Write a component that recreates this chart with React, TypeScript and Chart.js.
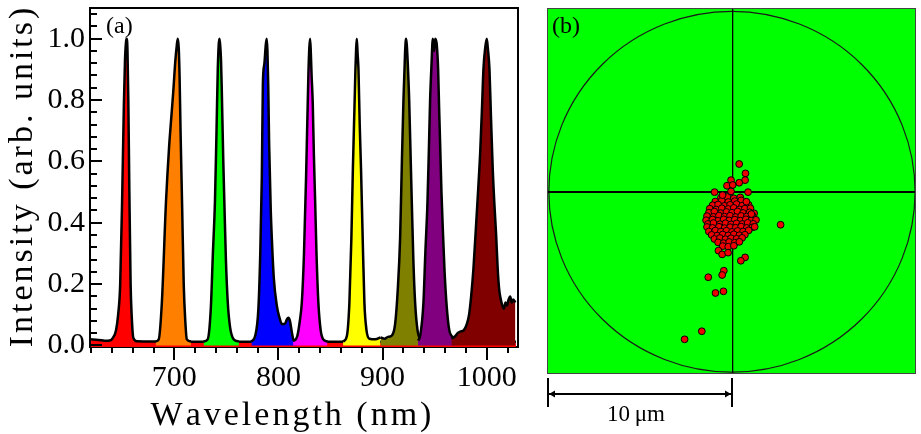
import React, { useEffect, useRef } from "react";
import { Chart, registerables } from "chart.js";

Chart.register(...registerables);

type P = [number, number];

// ---------- Panel (a): spectra (wavelength nm, normalized intensity) ----------
const RED_SPEC: P[] = [
  [620, 0.02], [625, 0.019], [630, 0.017], [634, 0.015], [638, 0.016], [641, 0.025],
  [644, 0.05], [646, 0.1], [648, 0.2], [650, 0.5], [651.5, 0.78], [652.6, 0.93], [653.6, 0.99], [654.3, 1.0],
  [655, 0.96], [655.8, 0.8], [656.8, 0.5], [658, 0.2], [659, 0.1], [660.6, 0.025], [664, 0.014],
  [680, 0.013], [720, 0.012], [780, 0.012], [850, 0.012], [900, 0.012], [960, 0.012],
  [1000, 0.012], [1028, 0.012],
];
const ORANGE_SPEC: P[] = [
  [682, 0.013], [685, 0.02], [688, 0.14], [692, 0.47], [695, 0.65], [697, 0.74],
  [699, 0.83], [701, 0.93], [702.4, 0.98], [703.3, 1.0], [704.2, 0.97], [705, 0.88], [706, 0.69], [707.5, 0.45],
  [709, 0.2], [710.5, 0.08], [712, 0.02], [716, 0.013],
];
const GREEN_SPEC: P[] = [
  [728, 0.013], [732, 0.02], [735, 0.12], [737, 0.3], [739, 0.47], [740.5, 0.7],
  [741.7, 0.9], [742.6, 0.98], [743.3, 1.0], [744, 0.98], [744.8, 0.93], [745.5, 0.84], [747, 0.6], [748, 0.47],
  [749.5, 0.28], [751.3, 0.14], [753.5, 0.06], [757, 0.02], [762, 0.013],
];
const BLUE_SPEC: P[] = [
  [774, 0.013], [777.5, 0.03], [780.7, 0.12], [782.5, 0.3], [784, 0.55], [785, 0.85],
  [786.5, 0.92], [787.8, 0.98], [788.7, 1.0], [789.4, 0.96], [790.2, 0.84], [791, 0.66], [792.5, 0.45], [793.6, 0.35],
  [795.5, 0.22], [798.4, 0.13], [801, 0.09], [803.2, 0.07], [806, 0.07], [808, 0.085],
  [809.5, 0.09], [811, 0.08], [812.5, 0.05], [814.3, 0.02], [818, 0.013],
];
const MAGENTA_SPEC: P[] = [
  [814, 0.013], [818, 0.03], [820.5, 0.08], [822.4, 0.14], [824.5, 0.3], [826.5, 0.55],
  [828.7, 0.88], [829.6, 0.97], [830.4, 1.0], [831.1, 0.95], [831.8, 0.88], [832.9, 0.79], [834, 0.62], [835.2, 0.47],
  [836.5, 0.3], [838.3, 0.14], [840.5, 0.05], [843, 0.02], [847, 0.013],
];
const YELLOW_SPEC: P[] = [
  [862, 0.013], [865.6, 0.03], [868.1, 0.14], [870, 0.35], [871.4, 0.57], [873, 0.78],
  [873.9, 0.9], [874.6, 0.97], [875.2, 1.0], [876, 0.95], [876.8, 0.9], [878, 0.72], [879.3, 0.57],
  [881, 0.33], [882.5, 0.14], [884.5, 0.05], [887.3, 0.022], [893, 0.02], [898, 0.026],
];
const OLIVE_SPEC: P[] = [
  [898, 0.026], [902, 0.022], [905, 0.028], [908.8, 0.032], [912, 0.07], [914.5, 0.18],
  [916.8, 0.35], [918.5, 0.6], [920, 0.8], [921.5, 0.95], [922.1, 0.99], [922.6, 1.0], [923.2, 0.98], [924, 0.93],
  [925.5, 0.8], [927, 0.6], [928, 0.47], [929.5, 0.28], [931.2, 0.14], [933.5, 0.05],
  [936, 0.022], [940, 0.016],
];
const PURPLE_SPEC: P[] = [
  [934, 0.016], [936, 0.03], [939.2, 0.14], [941, 0.3], [943.1, 0.47], [944.5, 0.65],
  [945.6, 0.8], [947, 0.92], [948.2, 1.0], [949.5, 0.96], [950.5, 1.0], [952, 0.98],
  [953.3, 0.9], [954.2, 0.78], [955.2, 0.66], [956.5, 0.5], [957.8, 0.38], [959.5, 0.24],
  [961.7, 0.12], [964, 0.05], [966.5, 0.03], [970, 0.022],
];
const MAROON_SPEC: P[] = [
  [966, 0.022], [969.7, 0.03], [972, 0.04], [974.5, 0.045], [978, 0.05], [980.9, 0.07],
  [983, 0.1], [985, 0.16], [987.2, 0.25], [989, 0.35], [991.1, 0.47], [993.7, 0.63],
  [995.5, 0.78], [996.8, 0.9], [998.5, 0.97], [1000, 1.0], [1001, 0.97], [1002.6, 0.9],
  [1004, 0.75], [1005.8, 0.57], [1007.5, 0.45], [1009, 0.36], [1010.5, 0.25], [1012, 0.18],
  [1013.5, 0.15], [1015, 0.13], [1016.5, 0.12], [1018, 0.14], [1019.5, 0.13], [1021, 0.15],
  [1022.5, 0.16], [1024, 0.14], [1025.5, 0.15], [1027.5, 0.14],
];

const SPEC_COLORS = ["#ff0000", "#ff8000", "#00ff00", "#0000ff", "#ff00ff", "#ffff00", "#808000", "#800080", "#800000"];

const X_TITLE = "Wavelength (nm)";
const Y_TITLE = "Intensity (arb. units)";
const X_LABEL_TICKS = [700, 800, 900, 1000];
const X_TICK_MARKS = [620, 640, 660, 680, 700, 720, 740, 760, 780, 800, 820, 840, 860, 880, 900, 920, 940, 960, 980, 1000, 1020];
const Y_LABEL_TICKS = [0, 0.2, 0.4, 0.6, 0.8, 1.0];
const Y_TICK_MARKS = [0, 0.04, 0.08, 0.12, 0.16, 0.2, 0.24, 0.28, 0.32, 0.36, 0.4, 0.44, 0.48, 0.52, 0.56, 0.6, 0.64, 0.68, 0.72, 0.76, 0.8, 0.84, 0.88, 0.92, 0.96, 1.0, 1.04, 1.08];

// ---------- Panel (b): spot positions (micrometres) ----------
const SPOTS_OUTLIERS: P[] = [
  [0.39, 1.48], [0.73, 0.98], [0.71, 0.62], [0.39, 0.48], [-0.05, 0.62], [-0.27, 0.32],
  [0.04, 0.36], [-0.94, -0.02], [-0.05, 0.02], [0.87, -0.02], [0.78, -0.53], [-0.51, -0.18],
  [2.63, -1.76], [1.23, -1.87], [1.05, -1.19], [-0.73, -3.14], [-0.53, -3.34], [-0.21, -3.25],
  [0.71, -3.5], [0.48, -3.68], [-0.44, -4.21], [-0.53, -4.44], [-1.28, -4.56], [-0.46, -5.31],
  [-0.89, -5.4], [-1.63, -7.44], [-2.56, -7.87],
];
const SPOTS_CLUSTER: P[] = [
  [-0.6, -0.32], [-0.25, -0.28], [0.1, -0.35], [0.45, -0.3],
  [-0.9, -0.52], [-0.55, -0.47], [-0.2, -0.55], [0.15, -0.5], [0.5, -0.46],
  [-1.05, -0.72], [-0.75, -0.68], [-0.4, -0.75], [-0.1, -0.7], [0.25, -0.66], [0.55, -0.74], [0.9, -0.7],
  [-1.2, -0.9], [-0.85, -0.95], [-0.55, -0.88], [-0.2, -0.92], [0.1, -0.86], [0.4, -0.94], [0.7, -0.9], [1.0, -0.88],
  [-1.25, -1.12], [-0.95, -1.06], [-0.6, -1.14], [-0.3, -1.08], [0.0, -1.12], [0.3, -1.05], [0.6, -1.13], [0.95, -1.1], [1.2, -1.15],
  [-1.35, -1.3], [-1.0, -1.34], [-0.7, -1.27], [-0.4, -1.33], [-0.1, -1.28], [0.2, -1.35], [0.5, -1.29], [0.8, -1.32], [1.1, -1.27],
  [-1.4, -1.52], [-1.05, -1.48], [-0.75, -1.55], [-0.45, -1.47], [-0.15, -1.53], [0.15, -1.49], [0.45, -1.54], [0.75, -1.47], [1.05, -1.52], [1.3, -1.5],
  [-1.3, -1.72], [-1.0, -1.67], [-0.65, -1.73], [-0.35, -1.68], [-0.05, -1.74], [0.25, -1.69], [0.55, -1.72], [0.85, -1.66], [1.15, -1.71],
  [-1.35, -1.88], [-1.05, -1.93], [-0.7, -1.87], [-0.4, -1.94], [-0.1, -1.89], [0.2, -1.92], [0.5, -1.86], [0.8, -1.93], [1.1, -1.9],
  [-1.25, -2.12], [-0.9, -2.07], [-0.6, -2.13], [-0.3, -2.08], [0.0, -2.14], [0.3, -2.09], [0.6, -2.12], [0.9, -2.06],
  [-1.1, -2.3], [-0.8, -2.34], [-0.5, -2.28], [-0.2, -2.33], [0.1, -2.27], [0.4, -2.32], [0.7, -2.29],
  [-0.95, -2.52], [-0.65, -2.47], [-0.35, -2.53], [-0.05, -2.48], [0.25, -2.51], [0.55, -2.46],
  [-0.75, -2.7], [-0.45, -2.74], [-0.15, -2.68], [0.15, -2.72], [0.4, -2.67],
  [-0.5, -2.9], [-0.2, -2.93], [0.1, -2.88],
];
const FIELD_X = [-10, 9.95];
const FIELD_Y = [-9.72, 9.8];
const RING_RADIUS = [9.9, 9.62]; // x, y semi-axes in micrometres
const SCALE_BAR = [-10, 0]; // 10 µm
const SCALE_LABEL = "10\u2009\u03bcm";

const SERIF = '"Liberation Serif", "Times New Roman", serif';

function isMajor(list: number[], v: number) {
  for (let i = 0; i < list.length; i++) if (Math.abs(list[i] - v) < 1e-6) return true;
  return false;
}

// draws text centred on cx with extra spacing between characters
function spacedText(ctx: CanvasRenderingContext2D, text: string, cx: number, y: number, gap: number) {
  const chars = Array.from(text);
  const widths = chars.map((c) => ctx.measureText(c).width);
  const total = widths.reduce((a, w) => a + w, 0) + gap * (chars.length - 1);
  let x = cx - total / 2;
  ctx.textAlign = "left";
  for (let i = 0; i < chars.length; i++) {
    ctx.fillText(chars[i], x, y);
    x += widths[i] + gap;
  }
}

const spectraPlugin = {
  id: "spectraFrame",
  beforeDatasetsDraw(chart: any) {
    const ctx = chart.ctx;
    const ca = chart.chartArea;
    const l = Math.round(ca.left), r = Math.round(ca.right), t = Math.round(ca.top), b = Math.round(ca.bottom);
    ctx.save();
    ctx.fillStyle = "#000000";
    ctx.fillRect(l - 1, b - 1, r - l + 2, 2);
    ctx.fillRect(l - 1, t - 1, 2, b - t + 2);
    ctx.restore();
  },
  afterDraw(chart: any) {
    const ctx = chart.ctx;
    const ca = chart.chartArea;
    const xs = chart.scales.x;
    const ys = chart.scales.y;
    const l = Math.round(ca.left), r = Math.round(ca.right), t = Math.round(ca.top), b = Math.round(ca.bottom);
    ctx.save();
    ctx.fillStyle = "#000000";
    ctx.fillRect(l - 1, t - 1, r - l + 2, 2);
    ctx.fillRect(r - 1, t - 1, 2, b - t + 2);
    ctx.fillRect(l - 1, t - 1, 2, b - t - 6);
    for (let i = 0; i < Y_TICK_MARKS.length; i++) {
      const v = Y_TICK_MARKS[i];
      const y = Math.round(ys.getPixelForValue(v));
      const len = isMajor(Y_LABEL_TICKS, v) ? 12 : 7;
      ctx.fillRect(l, y - 1, len, 2);
    }
    for (let i = 0; i < X_TICK_MARKS.length; i++) {
      const v = X_TICK_MARKS[i];
      const x = Math.round(xs.getPixelForValue(v));
      const len = isMajor(X_LABEL_TICKS, v) ? 13 : 6;
      ctx.fillRect(x - 1, b, 2, len);
    }

    ctx.font = `24px ${SERIF}`;
    ctx.textAlign = "left";
    ctx.textBaseline = "alphabetic";
    ctx.fillText("(a)", l + 16, t + 25);

    ctx.font = `34px ${SERIF}`;
    spacedText(ctx, X_TITLE, (l + r) / 2 - 13, 425, 3);
    ctx.translate(32, (t + b) / 2);
    ctx.rotate(-Math.PI / 2);
    spacedText(ctx, Y_TITLE, 0, 0, 3);
    ctx.restore();
  },
};

const spotPlugin = {
  id: "spotField",
  beforeDatasetsDraw(chart: any) {
    const ctx = chart.ctx;
    const ca = chart.chartArea;
    const xs = chart.scales.x;
    const ys = chart.scales.y;
    ctx.save();
    ctx.fillStyle = "#00ff00";
    ctx.fillRect(ca.left, ca.top, ca.right - ca.left, ca.bottom - ca.top);
    const cx = xs.getPixelForValue(0);
    const cy = ys.getPixelForValue(0);
    const rx = Math.abs(xs.getPixelForValue(RING_RADIUS[0]) - cx);
    const ry = Math.abs(ys.getPixelForValue(RING_RADIUS[1]) - cy);
    ctx.strokeStyle = "#1a1a1a";
    ctx.lineWidth = 1.2;
    ctx.beginPath();
    ctx.ellipse(cx, cy, rx, ry, 0, 0, Math.PI * 2);
    ctx.stroke();
    ctx.fillStyle = "#000000";
    ctx.fillRect(ca.left, Math.round(cy) - 1, ca.right - ca.left, 2);
    ctx.fillRect(Math.round(cx), ca.top, 1.3, ca.bottom - ca.top);
    ctx.restore();
  },
  afterDraw(chart: any) {
    const ctx = chart.ctx;
    const ca = chart.chartArea;
    const xs = chart.scales.x;
    ctx.save();
    ctx.strokeStyle = "#444444";
    ctx.lineWidth = 1;
    ctx.strokeRect(ca.left + 0.5, ca.top + 0.5, ca.right - ca.left - 1, ca.bottom - ca.top - 1);

    ctx.fillStyle = "#000000";
    ctx.font = `24px ${SERIF}`;
    ctx.textAlign = "left";
    ctx.fillText("(b)", ca.left + 5, ca.top + 25);

    const x0 = Math.round(xs.getPixelForValue(SCALE_BAR[0])) + 1;
    const x1 = Math.round(xs.getPixelForValue(SCALE_BAR[1]));
    const yb = Math.round(ca.bottom + 20);
    ctx.fillRect(x0 - 1, ca.bottom + 4, 2, 29);
    ctx.fillRect(x1 - 1, ca.bottom + 4, 2, 29);
    ctx.fillRect(x0 + 1, yb - 1, x1 - x0 - 2, 2);
    ctx.beginPath();
    ctx.moveTo(x0 + 1, yb);
    ctx.lineTo(x0 + 7, yb - 3.5);
    ctx.lineTo(x0 + 7, yb + 3.5);
    ctx.closePath();
    ctx.moveTo(x1 - 1, yb);
    ctx.lineTo(x1 - 7, yb - 3.5);
    ctx.lineTo(x1 - 7, yb + 3.5);
    ctx.closePath();
    ctx.fill();

    ctx.font = `23px ${SERIF}`;
    ctx.textAlign = "center";
    ctx.fillText(SCALE_LABEL, (x0 + x1) / 2 - 4, ca.bottom + 47);
    ctx.restore();
  },
};

export default function App() {
  const specRef = useRef<HTMLCanvasElement>(null);
  const spotRef = useRef<HTMLCanvasElement>(null);

  useEffect(() => {
    const spectra = [RED_SPEC, ORANGE_SPEC, GREEN_SPEC, BLUE_SPEC, MAGENTA_SPEC, YELLOW_SPEC, OLIVE_SPEC, PURPLE_SPEC, MAROON_SPEC];
    const tickFont = { family: SERIF, size: 30 };
    const chartA = new Chart(specRef.current!, {
      type: "line",
      data: {
        datasets: spectra
          .map((pts, i) => ({
            data: pts.map(([x, y]) => ({ x, y })),
            borderColor: "#000",
            borderWidth: 2.5,
            backgroundColor: SPEC_COLORS[i],
            fill: i === 0 ? "start" : "origin",
            pointRadius: 0,
            cubicInterpolationMode: "monotone",
          }))
          .reverse(),
      },
      options: {
        animation: false,
        responsive: false,
        events: [],
        layout: { padding: { left: 0, top: 8, right: 22, bottom: 0 } },
        plugins: { legend: { display: false }, tooltip: { enabled: false } },
        scales: {
          x: {
            type: "linear",
            min: 619,
            max: 1030,
            afterBuildTicks: (s: any) => {
              s.ticks = X_LABEL_TICKS.map((v) => ({ value: v }));
            },
            afterFit: (s: any) => {
              s.height = 87;
              s.paddingLeft = 0;
              s.paddingRight = 0;
            },
            grid: { display: false, drawTicks: false },
            border: { display: false },
            ticks: {
              autoSkip: false,
              maxRotation: 0,
              padding: 13,
              color: "#000",
              font: tickFont,
              callback: (v: any) => String(v),
            },
          },
          y: {
            type: "linear",
            min: -0.005,
            max: 1.1,
            afterBuildTicks: (s: any) => {
              s.ticks = Y_LABEL_TICKS.map((v) => ({ value: v }));
            },
            afterFit: (s: any) => {
              s.width = 90;
              s.paddingTop = 0;
              s.paddingBottom = 0;
            },
            grid: { display: false, drawTicks: false },
            border: { display: false },
            ticks: {
              padding: 5,
              color: "#000",
              font: tickFont,
              callback: (v: any) => Number(v).toFixed(1),
            },
          },
        },
      },
      plugins: [spectraPlugin],
    } as any);

    const spots = [...SPOTS_CLUSTER, ...SPOTS_OUTLIERS];
    const chartB = new Chart(spotRef.current!, {
      type: "scatter",
      data: {
        datasets: [
          {
            data: spots.map(([x, y]) => ({ x, y })),
            backgroundColor: "#ee0000",
            borderColor: "#000",
            borderWidth: 1,
            pointRadius: 3.4,
          },
        ],
      },
      options: {
        animation: false,
        responsive: false,
        events: [],
        layout: { padding: { left: 7, top: 8, right: 0, bottom: 60 } },
        plugins: { legend: { display: false }, tooltip: { enabled: false } },
        scales: {
          x: { type: "linear", min: FIELD_X[0], max: FIELD_X[1], display: false },
          y: { type: "linear", min: FIELD_Y[0], max: FIELD_Y[1], display: false },
        },
      },
      plugins: [spotPlugin],
    } as any);

    return () => {
      chartA.destroy();
      chartB.destroy();
    };
  }, []);

  return (
    <div style={{ position: "absolute", left: 0, top: 0, width: 921, height: 434, background: "#fff" }}>
      <canvas ref={specRef} width={540} height={434} style={{ position: "absolute", left: 0, top: 0, width: 540, height: 434 }} />
      <canvas ref={spotRef} width={381} height={434} style={{ position: "absolute", left: 540, top: 0, width: 381, height: 434 }} />
    </div>
  );
}
